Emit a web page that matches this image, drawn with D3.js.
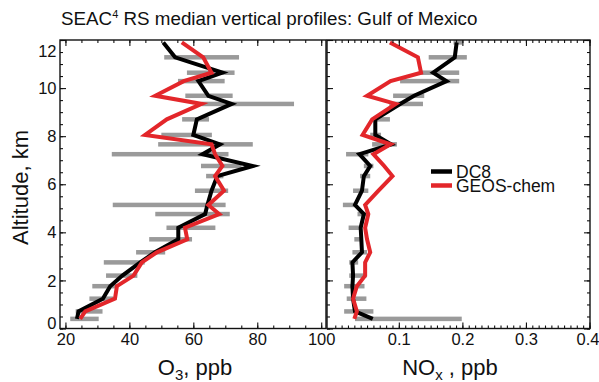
<!DOCTYPE html>
<html>
<head>
<meta charset="utf-8">
<script src="https://cdn.jsdelivr.net/npm/d3@7"></script>
<style>
  body { margin: 0; background: #fff; }
  svg { display: block; font-family: "Liberation Sans", Arial, Helvetica, sans-serif; }
</style>
</head>
<body>
<div id="wrapper"></div>
<script>
// altitude of each median level (km)
const altitude = [0.4, 0.71, 1.24, 1.76, 2.2, 2.75, 3.17, 3.71, 4.19, 4.76, 5.14, 5.73,
  6.34, 6.76, 7.25, 7.66, 8.05, 8.7, 9.34, 9.68, 10.29, 10.64, 11.28, 11.9]

// O3, ppb
const o3DC8 = [23.6, 24.1, 31.7, 34, 37.8, 43.4, 48, 55.3, 55.3, 63.7, 64.4, 65.7,
  67.5, 78.6, 62.9, 68.3, 60, 61.1, 72, 64.7, 61.6, 69.1, 54.3, 50.6]
const o3GEOS = [24.6, 26.2, 35.5, 36.1, 41.3, 43.9, 48.6, 58.1, 57.4, 68.1, 64.7, 69.6,
  66.8, 69.1, 66.8, 65.7, 44.9, 51.7, 62.6, 48.1, 57, 65.7, 63.1, 56.4]
const o3Low = [21.5, 23.2, 27.5, 28.4, 32.7, 32, 42.1, 46.2, 51.6, 48.1, 34.8, 60.5,
  64, 62.4, 34.5, 49, 50, 56.5, 62.6, 57.5, 55.2, 58, 50.9, null]
const o3High = [30.4, 31.6, 35, 36.3, 42.5, 44.8, 51.2, 59.6, 66.9, 71.4, 70.1, 70.9,
  69.4, 75.1, 71, 78.6, 65.8, 64.9, 91.5, 72.3, 69.8, 72.9, 74.3, null]

// NOx, ppb
const noxDC8 = [0.059, 0.031, 0.028, 0.027, 0.028, 0.027, 0.042, 0.041, 0.040, 0.045, 0.031, 0.042,
  0.045, 0.055, 0.038, 0.088, 0.063, 0.063, 0.102, 0.124, 0.175, 0.154, 0.188, 0.191]
const noxGEOS = [0.030, 0.034, 0.028, 0.034, 0.047, 0.047, 0.055, 0.050, 0.047, 0.052, 0.047, 0.068,
  0.090, 0.077, 0.060, 0.087, 0.043, 0.058, 0.095, 0.050, 0.087, 0.135, 0.130, 0.086]
const noxLow = [0.031, 0.014, 0.018, 0.014, 0.022, 0.022, 0.027, 0.030, 0.021, 0.035, 0.012, 0.028,
  0.039, 0.045, 0.017, 0.058, 0.055, 0.060, 0.085, 0.091, 0.102, 0.135, 0.147, 0.186]
const noxHigh = [0.199, 0.060, 0.049, 0.046, 0.049, 0.036, 0.050, 0.040, 0.042, 0.050, 0.034, 0.052,
  0.055, 0.060, 0.052, 0.097, 0.072, 0.086, 0.138, 0.140, 0.195, 0.195, 0.207, 0.200]

const o3Ticks = [20, 40, 60, 80, 100]
const noxTicks = [0.1, 0.2, 0.3, 0.4]
const altTicks = [0, 2, 4, 6, 8, 10, 12]

const seriesNames = ["DC8", "GEOS-chem"]
const seriesColors = ["#000000", "#e3262a"]

function drawProfiles() {
  const dimensions = {
    width: 599,
    height: 382,
    top: 40,
    bottom: 328.5
  }

  const wrapper = d3.select("#wrapper")
    .append("svg")
      .attr("width", dimensions.width)
      .attr("height", dimensions.height)

  const yScale = d3.scaleLinear()
    .domain([0, 12])
    .range([dimensions.bottom, dimensions.top])

  const altMinor = d3.range(0, 25).map(i => i / 2)

  const panels = [
    {
      left: 60, right: 326,
      scale: d3.scaleLinear().domain([18.3, 101.5]).range([60, 326]),
      major: o3Ticks,
      minor: d3.range(20, 101, 5),
      fmt: d => d,
      dc8: o3DC8, geos: o3GEOS, low: o3Low, high: o3High,
      leftLabels: true, rightTicks: false,
      label: ["O", "3", ", ppb"], labelX: 195
    },
    {
      left: 327, right: 590,
      scale: d3.scaleLinear().domain([-0.013, 0.4]).range([327, 589.5]),
      major: noxTicks,
      minor: d3.range(0, 41).map(i => i / 100),
      fmt: d => d3.format(".1f")(d),
      dc8: noxDC8, geos: noxGEOS, low: noxLow, high: noxHigh,
      leftLabels: false, rightTicks: true,
      label: ["NO", "x", " , ppb"], labelX: 450
    }
  ]

  panels.forEach(p => {
    const g = wrapper.append("g")
    const xScale = p.scale

    // grey spread bars
    const barIdx = d3.range(altitude.length).filter(i => p.low[i] != null)
    g.append("g")
      .selectAll("rect")
      .data(barIdx)
      .join("rect")
        .attr("x", i => xScale(p.low[i]))
        .attr("y", i => yScale(altitude[i]) - 2.25)
        .attr("width", i => xScale(p.high[i]) - xScale(p.low[i]))
        .attr("height", 4.5)
        .attr("fill", "#9a9a9a")

    // profile lines
    const lineGen = values => d3.line()
      .x((d, i) => xScale(values[i]))
      .y(d => yScale(d))(altitude)

    ;[p.dc8, p.geos].forEach((values, k) => {
      g.append("path")
        .attr("d", lineGen(values))
        .attr("fill", "none")
        .attr("stroke", seriesColors[k])
        .attr("stroke-width", 4)
        .attr("stroke-linejoin", "miter")
    })

    // bottom axis
    const bottomAxis = g.append("g")
      .attr("transform", `translate(0, ${dimensions.bottom})`)
    bottomAxis.call(d3.axisBottom(xScale).tickValues(p.minor).tickSize(-3).tickFormat(""))
    bottomAxis.call(g2 => g2.select(".domain").remove())
    const bottomMajor = g.append("g")
      .attr("transform", `translate(0, ${dimensions.bottom})`)
      .call(d3.axisBottom(xScale).tickValues(p.major).tickSize(-6).tickPadding(5).tickFormat(p.fmt))
    bottomMajor.select(".domain").remove()
    bottomMajor.selectAll("text")
      .style("font-size", "16.5px")
      .attr("fill", "#111")
      .attr("x", d => d === 0.4 ? -2 : 0)

    // top axis
    const topAxis = g.append("g")
      .attr("transform", `translate(0, ${dimensions.top})`)
    topAxis.call(d3.axisTop(xScale).tickValues(p.minor).tickSize(-3).tickFormat(""))
    topAxis.select(".domain").remove()
    const topMajor = g.append("g")
      .attr("transform", `translate(0, ${dimensions.top})`)
      .call(d3.axisTop(xScale).tickValues(p.major).tickSize(-6).tickFormat(""))
    topMajor.select(".domain").remove()

    // left axis
    const leftMinor = g.append("g")
      .attr("transform", `translate(${p.left}, 0)`)
      .call(d3.axisLeft(yScale).tickValues(altMinor).tickSize(-3).tickFormat(""))
    leftMinor.select(".domain").remove()
    const leftMajor = g.append("g")
      .attr("transform", `translate(${p.left}, 0)`)
      .call(d3.axisLeft(yScale).tickValues(altTicks).tickSize(-6).tickPadding(4)
        .tickFormat(p.leftLabels ? d => d : ""))
    leftMajor.select(".domain").remove()
    leftMajor.selectAll("text")
      .style("font-size", "16.5px")
      .attr("fill", "#111")
      .attr("x", -3.5)
      .attr("dy", d => d === 12 ? "1.0em" : d === 0 ? "-0.02em" : "0.34em")

    // right axis
    if (p.rightTicks) {
      const rightMinor = g.append("g")
        .attr("transform", `translate(${p.right}, 0)`)
        .call(d3.axisRight(yScale).tickValues(altMinor).tickSize(-3).tickFormat(""))
      rightMinor.select(".domain").remove()
      const rightMajor = g.append("g")
        .attr("transform", `translate(${p.right}, 0)`)
        .call(d3.axisRight(yScale).tickValues(altTicks).tickSize(-6).tickFormat(""))
      rightMajor.select(".domain").remove()
    }

    g.selectAll(".tick line").attr("stroke", "#111").attr("stroke-width", 1.1)

    // frame
    g.append("rect")
      .attr("x", p.left)
      .attr("y", dimensions.top)
      .attr("width", p.right - p.left)
      .attr("height", dimensions.bottom - dimensions.top)
      .attr("fill", "none")
      .attr("stroke", "#111")
      .attr("stroke-width", 1.4)

    // x label with subscript
    const lab = g.append("text")
      .attr("x", p.labelX)
      .attr("y", 375)
      .attr("text-anchor", "middle")
      .style("font-size", "22px")
      .attr("fill", "#111")
    lab.append("tspan").text(p.label[0])
    lab.append("tspan").text(p.label[1]).attr("dy", 5).style("font-size", "15px")
    lab.append("tspan").text(p.label[2]).attr("dy", -5)
  })

  // y label
  wrapper.append("text")
    .attr("transform", "translate(28, 187.5) rotate(-90)")
    .attr("text-anchor", "middle")
    .style("font-size", "22px")
    .attr("fill", "#111")
    .text("Altitude, km")

  // title
  const title = wrapper.append("text")
    .attr("x", 61)
    .attr("y", 25)
    .style("font-size", "18.8px")
    .attr("fill", "#111")
  title.append("tspan").text("SEAC")
  title.append("tspan").text("4").attr("dy", -7).style("font-size", "11px")
  title.append("tspan").text(" RS median vertical profiles: Gulf of Mexico").attr("dy", 7)

  // legend
  const legendY = [171.5, 185.5]
  const legend = wrapper.append("g")
  seriesNames.forEach((name, k) => {
    legend.append("line")
      .attr("x1", 431).attr("x2", 452)
      .attr("y1", legendY[k]).attr("y2", legendY[k])
      .attr("stroke", seriesColors[k])
      .attr("stroke-width", 4.5)
    legend.append("text")
      .attr("x", 456)
      .attr("y", legendY[k] + 6)
      .style("font-size", "17.5px")
      .attr("fill", "#111")
      .text(name)
  })
}

drawProfiles()
</script>
</body>
</html>
